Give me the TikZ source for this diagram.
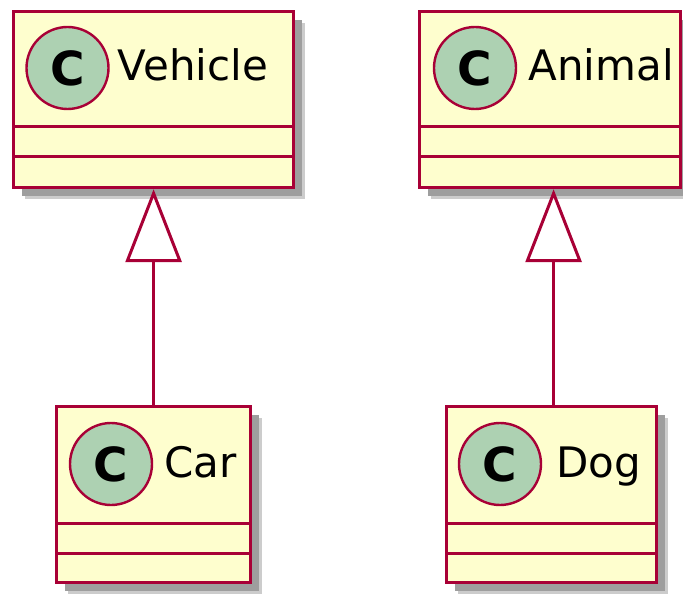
\documentclass[tikz,border=0pt]{standalone}
\usepackage{xcolor}
\usepackage{fontspec}
\setmainfont{DejaVu Sans}
\usepackage{tikz}
\usetikzlibrary{positioning,arrows.meta,shadows}

\definecolor{umlred}{HTML}{A80036}
\definecolor{umlfill}{HTML}{FEFECE}
\definecolor{spotgreen}{HTML}{ADD1B2}

\begin{document}
\begin{tikzpicture}[
  x=1pt, y=-1pt,
  classbox/.style={
    draw=umlred,
    line width=3.2pt,
    fill=umlfill,
    anchor=north west,
    minimum height=176pt,
    inner sep=0pt,
    drop shadow={shadow xshift=11pt, shadow yshift=-11pt, fill=black!20, opacity=1},
    drop shadow={shadow xshift=8pt, shadow yshift=-8pt, fill=black!38, opacity=1}
  },
  spot/.style={
    circle,
    draw=umlred,
    fill=spotgreen,
    line width=2.4pt,
    minimum size=82pt,
    inner sep=0pt,
    font=\bfseries\fontsize{47}{47}\selectfont
  },
  cname/.style={anchor=base west, inner sep=0pt, font=\fontsize{42}{42}\selectfont},
  sep/.style={draw=umlred, line width=3pt},
  inherit/.style={draw=umlred, line width=3pt, -{Triangle[width=56pt, length=73pt, fill=white, line join=miter]}}
]
  \useasboundingbox (0,0) rectangle (683,596);

  % parents
  \node[classbox, minimum width=280pt] (vehicle) at (12,10) {};
  \node[classbox, minimum width=261pt] (animal) at (418,10) {};
  % children
  \node[classbox, minimum width=194pt] (car) at (55,405) {};
  \node[classbox, minimum width=210pt] (dog) at (445,405) {};

  % compartments
  \draw[sep] ([yshift=-117pt]vehicle.north west) -- ([yshift=-117pt]vehicle.north east);
  \draw[sep] ([yshift=-147pt]vehicle.north west) -- ([yshift=-147pt]vehicle.north east);
  \draw[sep] ([yshift=-117pt]animal.north west) -- ([yshift=-117pt]animal.north east);
  \draw[sep] ([yshift=-147pt]animal.north west) -- ([yshift=-147pt]animal.north east);
  \draw[sep] ([yshift=-118pt]car.north west) -- ([yshift=-118pt]car.north east);
  \draw[sep] ([yshift=-148pt]car.north west) -- ([yshift=-148pt]car.north east);
  \draw[sep] ([yshift=-118pt]dog.north west) -- ([yshift=-118pt]dog.north east);
  \draw[sep] ([yshift=-148pt]dog.north west) -- ([yshift=-148pt]dog.north east);

  % class spots and names
  \node[spot] (vspot) at (67.5,68) {C};
  \node[cname] (vname) at ([xshift=8pt, yshift=-13pt]vspot.east) {Vehicle};
  \node[spot] (aspot) at (475,68) {C};
  \node[cname] (aname) at ([xshift=11pt, yshift=-13pt]aspot.east) {Animal};
  \node[spot] (cspot) at (111,464) {C};
  \node[cname] (cname) at ([xshift=11pt, yshift=-13pt]cspot.east) {Car};
  \node[spot] (dspot) at (500,464) {C};
  \node[cname] (dname) at ([xshift=14pt, yshift=-13pt]dspot.east) {Dog};

  % generalisation
  \draw[inherit] (car.north) -- (car.north |- vehicle.south);
  \draw[inherit] ([xshift=2pt]dog.north) -- ([xshift=2pt]dog.north |- animal.south);
\end{tikzpicture}
\end{document}
